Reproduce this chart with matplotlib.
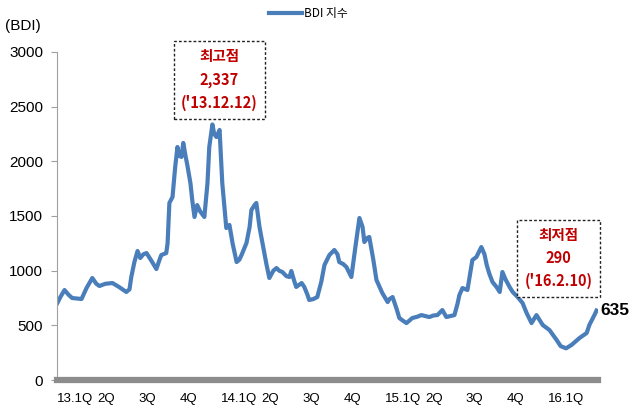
import matplotlib
matplotlib.use("Agg")
from matplotlib import pyplot as plt

# days since 2013-01-01 and BDI value
days = [0, 7, 16, 25, 33, 45, 54, 65, 78, 87, 94, 107, 123, 138, 154, 161, 165, 172,
        179, 185, 192, 199, 210, 221, 228, 232, 243, 246, 250, 257, 263, 268, 272, 277,
        281, 286, 290, 297, 301, 306, 312, 319, 328, 335, 339, 346, 350, 355, 362, 368,
        377, 384, 391, 400, 406, 411, 422, 429, 433, 440, 444, 451, 460, 466, 473, 482,
        489, 495, 502, 511, 518, 522, 529, 533, 545, 551, 558, 562, 571, 580, 589, 596,
        607, 618, 625, 629, 638, 645, 656, 665, 674, 681, 685, 692, 696, 705, 712, 719,
        725, 737, 741, 748, 757, 763, 772, 779, 792, 804, 812, 821, 830, 839, 848, 859,
        868, 877, 886, 893, 897, 904, 915, 926, 935, 946, 953, 958, 964, 971, 980, 987,
        993, 1000, 1009, 1016, 1027, 1038, 1047, 1058, 1069, 1083, 1098, 1114, 1123,
        1135, 1147, 1165, 1181, 1187, 1199, 1203]
bdi = [704, 760, 823, 780, 750, 745, 741, 840, 933, 880, 860, 880, 887, 850, 805, 830,
       942, 1080, 1180, 1116, 1150, 1161, 1090, 1015, 1100, 1143, 1161, 1250, 1619, 1674,
       1950, 2131, 2050, 2040, 2168, 2050, 1966, 1800, 1646, 1491, 1600, 1540, 1491, 1800,
       2131, 2337, 2250, 2222, 2287, 1802, 1390, 1418, 1250, 1079, 1100, 1143, 1253, 1400,
       1555, 1600, 1619, 1400, 1200, 1070, 933, 1000, 1024, 1000, 988, 950, 942, 997, 900,
       851, 887, 851, 780, 732, 740, 759, 900, 1052, 1143, 1189, 1150, 1079, 1060, 1033,
       942, 1216, 1482, 1400, 1262, 1300, 1308, 1100, 915, 851, 796, 713, 740, 759, 650,
       567, 540, 521, 567, 580, 594, 585, 576, 590, 594, 640, 576, 585, 594, 700, 777, 841,
       823, 1097, 1125, 1216, 1150, 1052, 970, 896, 850, 805, 988, 920, 851, 805, 759, 704,
       613, 521, 594, 503, 457, 366, 310, 290, 320, 384, 430, 503, 600, 635]

quarter_days = [0, 90, 181, 273, 365, 455, 546, 638, 730, 820, 911, 1003, 1095]
quarter_labels = ["13.1Q", "2Q", "3Q", "4Q", "14.1Q", "2Q", "3Q", "4Q",
                  "15.1Q", "2Q", "3Q", "4Q", "16.1Q"]
y_ticks = [0, 500, 1000, 1500, 2000, 2500, 3000]

kr = ['Noto Sans CJK KR', 'DejaVu Sans']
sans = ['Liberation Sans', 'DejaVu Sans']
red = '#c00000'

fig = plt.figure(figsize=(6.32, 4.19), dpi=100)
ax = fig.add_axes([0.090, 0.093, 0.856, 0.783])

ax.plot(days, bdi, color='#4a7ebb', linewidth=3.0, label='BDI 지수', solid_joinstyle='round')

ax.set_xlim(-1, 1206)
ax.set_ylim(0, 3000)
ax.set_yticks(y_ticks)
ax.set_yticklabels([str(v) for v in y_ticks], fontsize=11, family=sans)
ax.set_xticks(quarter_days)
ax.set_xticklabels(quarter_labels, fontsize=9.5, ha='left', family=sans)
ax.tick_params(axis='x', length=0, pad=9)
ax.tick_params(axis='y', length=4, color='#a0a0a0', pad=6)

for s in ['top', 'right']:
    ax.spines[s].set_visible(False)
ax.spines['left'].set_color('#a0a0a0')
ax.spines['left'].set_linewidth(0.8)
ax.spines['bottom'].set_color('#8c8c8c')
ax.spines['bottom'].set_linewidth(4.5)

fig.text(0.008, 0.928, '(BDI)', fontsize=11, family=sans)

leg = ax.legend(loc='upper center', bbox_to_anchor=(0.465, 1.17), frameon=False,
                handlelength=2.8, handletextpad=0.2, prop={'family': kr, 'size': 8.5})

box = dict(boxstyle='square,pad=0.5', facecolor='white', edgecolor='#222222',
           linestyle=(0, (2, 1.5)), linewidth=1)
ax.text(362, 2744, "최고점\n2,337\n('13.12.12)", ha='center', va='center', color=red,
        fontsize=10.5, fontweight='bold', family=kr, linespacing=1.55, bbox=box)
ax.text(1118, 1116, "최저점\n290\n('16.2.10)", ha='center', va='center', color=red,
        fontsize=10.5, fontweight='bold', family=kr, linespacing=1.55, bbox=box)
ax.annotate(str(bdi[-1]), (days[-1], bdi[-1]), xytext=(3, 0), textcoords='offset points',
            fontsize=12.5, fontweight='bold', va='center', family=sans,
            annotation_clip=False)

fig.savefig('out.png', dpi=100)
